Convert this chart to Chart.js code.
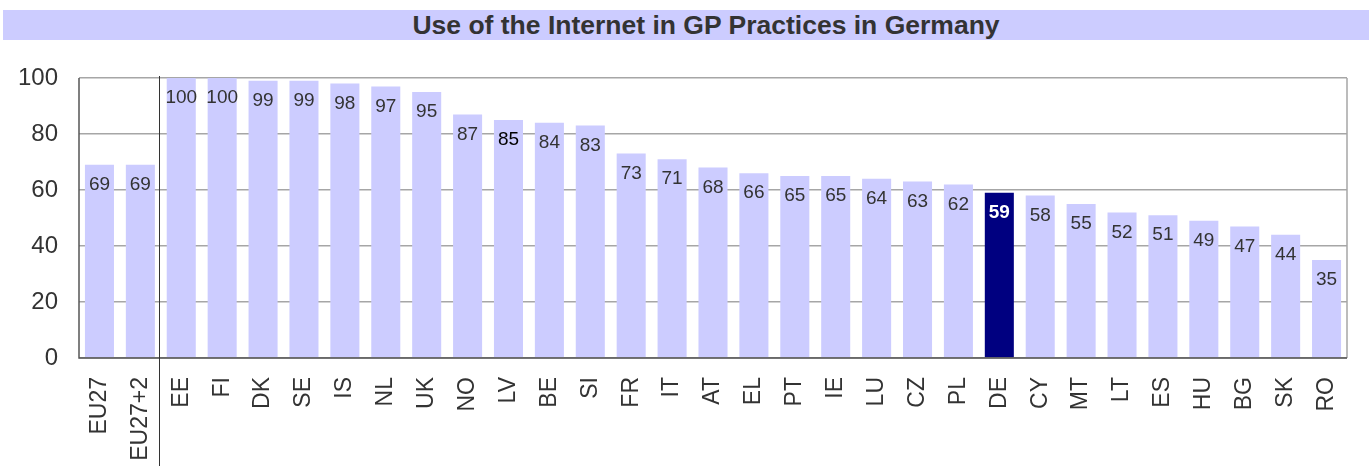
<!DOCTYPE html>
<html>
<head>
<meta charset="utf-8">
<script src="https://cdn.jsdelivr.net/npm/chart.js@4/dist/chart.umd.min.js"></script>
<style>
  body { margin: 0; background: #fff; }
  #wrap { position: relative; width: 1369px; height: 466px; overflow: hidden; }
  #title {
    position: absolute; left: 3px; top: 10px; width: 1326px; height: 30px;
    padding-left: 40px; background: #ccccff; color: #333;
    font: bold 26.5px "Liberation Sans", Arial, sans-serif;
    line-height: 31px; text-align: center;
  }
  canvas { position: absolute; left: 0; top: 0; }
</style>
</head>
<body>
<div id="wrap">
  <canvas id="chart" width="1369" height="466"></canvas>
  <div id="title">Use of the Internet in GP Practices in Germany</div>
</div>
<script>
const countries = ["EU27", "EU27+2", "EE", "FI", "DK", "SE", "IS", "NL", "UK", "NO", "LV", "BE", "SI", "FR", "IT", "AT", "EL", "PT", "IE", "LU", "CZ", "PL", "DE", "CY", "MT", "LT", "ES", "HU", "BG", "SK", "RO"];
const usage = [69, 69, 100, 100, 99, 99, 98, 97, 95, 87, 85, 84, 83, 73, 71, 68, 66, 65, 65, 64, 63, 62, 59, 58, 55, 52, 51, 49, 47, 44, 35];
const yTicks = [0, 20, 40, 60, 80, 100];

const highlight = "DE";
const barColors = countries.map(c => c === highlight ? "#000080" : "#ccccff");
const fontFamily = "'Liberation Sans', Arial, sans-serif";

// value labels inside bar tops + separator after the EU averages
const extras = {
  id: "extras",
  beforeDatasetsDraw(chart) {
    const { ctx, chartArea: a } = chart;
    ctx.save();
    ctx.strokeStyle = "#a6a6a6";
    ctx.lineWidth = 1.5;
    ctx.beginPath();
    ctx.moveTo(a.right, a.top);
    ctx.lineTo(a.right, a.bottom);
    ctx.stroke();
    ctx.restore();
  },
  afterDatasetsDraw(chart) {
    const { ctx, chartArea: a } = chart;
    const x = chart.scales.x;
    const bars = chart.getDatasetMeta(0).data;
    ctx.save();
    ctx.textAlign = "center";
    ctx.textBaseline = "middle";
    bars.forEach((bar, i) => {
      const isDE = countries[i] === highlight;
      ctx.font = (isDE ? "bold " : "") + "19px " + fontFamily;
      ctx.fillStyle = isDE ? "#ffffff" : (countries[i] === "LV" ? "#000" : "#333");
      ctx.fillText(String(usage[i]), bar.x, bar.y + 20);
    });
    // axis lines
    ctx.strokeStyle = "#555";
    ctx.lineWidth = 1.5;
    ctx.beginPath();
    ctx.moveTo(a.left, a.top);
    ctx.lineTo(a.left, a.bottom);
    ctx.lineTo(a.right, a.bottom);
    ctx.stroke();
    // separator
    const sx = Math.round((x.getPixelForValue(1) + x.getPixelForValue(2)) / 2) - 1.5;
    ctx.strokeStyle = "#333";
    ctx.lineWidth = 1;
    ctx.beginPath();
    ctx.moveTo(sx, a.top - 2);
    ctx.lineTo(sx, chart.height);
    ctx.stroke();
    ctx.restore();
  }
};

new Chart(document.getElementById("chart"), {
  type: "bar",
  data: {
    labels: countries,
    datasets: [{
      data: usage,
      backgroundColor: barColors,
      barPercentage: 0.71,
      categoryPercentage: 1
    }]
  },
  options: {
    responsive: false,
    animation: false,
    layout: { padding: { top: 78, right: 22, left: 0, bottom: 0 } },
    plugins: { legend: { display: false }, tooltip: { enabled: false } },
    scales: {
      x: {
        grid: { display: false, drawTicks: false },
        border: { display: false },
        ticks: {
          color: "#333",
          font: { family: fontFamily, size: 23 },
          minRotation: 90, maxRotation: 90, padding: 19, autoSkip: false
        },
        afterFit(s) { s.height = 108; s.paddingLeft = 0; s.paddingRight = 0; }
      },
      y: {
        min: 0, max: 100,
        afterBuildTicks(s) { s.ticks = yTicks.map(v => ({ value: v })); },
        grid: { color: "#a6a6a6", lineWidth: 1.5, drawTicks: false },
        border: { display: false },
        ticks: {
          color: "#333",
          font: { family: fontFamily, size: 24 },
          padding: 21
        },
        afterFit(s) { s.width = 79; s.paddingTop = 0; s.paddingBottom = 0; }
      }
    }
  },
  plugins: [extras]
});
</script>
</body>
</html>
